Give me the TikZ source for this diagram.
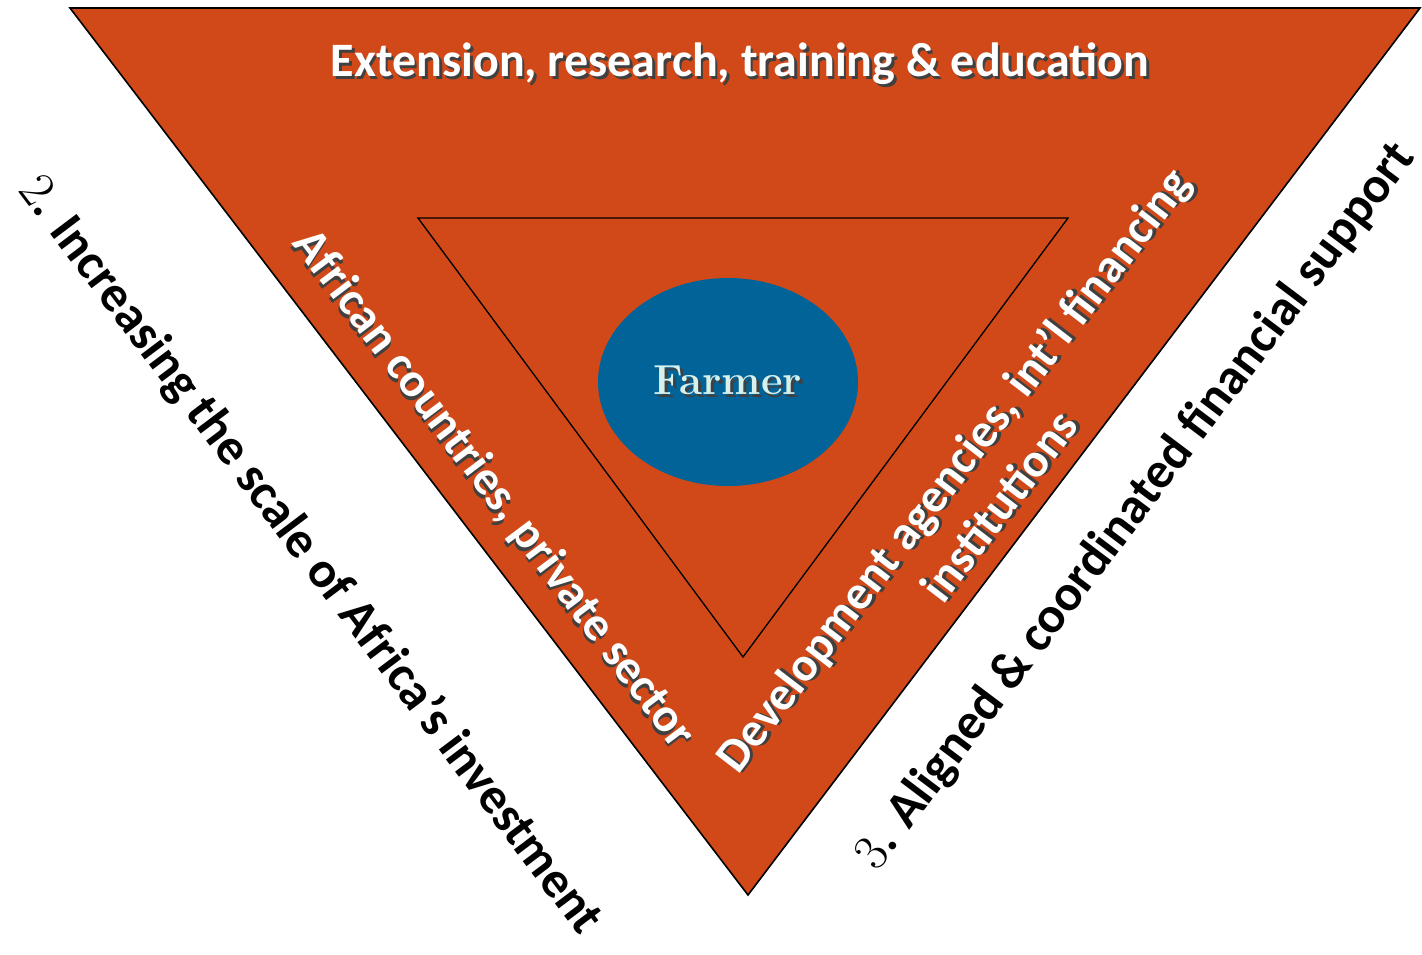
\documentclass[tikz,border=0pt]{standalone}
\usepackage{fontspec}
\setsansfont{Carlito}
\usepackage{xcolor}
\usetikzlibrary{shapes.geometric}
\definecolor{rust}{RGB}{209,73,24}
\definecolor{farmblue}{RGB}{2,99,152}
\definecolor{farmtext}{RGB}{214,240,236}
\newcommand{\shd}[1]{\makebox[0pt][l]{\raisebox{-2pt}{\hspace{2pt}\textcolor{black!75}{#1}}}#1}
\tikzset{
  wlabel/.style={text=white, font=\sffamily\bfseries\fontsize{36}{44}\selectfont, align=center},
  blabel/.style={text=black, font=\sffamily\bfseries\fontsize{38.2}{46}\selectfont}
}

\begin{document}
\begin{tikzpicture}[x=0.75pt, y=-0.75pt]
        \useasboundingbox (0,0) rectangle (1422,954);
        \coordinate (tl) at (70, 8);
        \coordinate (tr) at (1420, 8);
        \coordinate (bot) at (748, 895);
        \coordinate (itl) at (418, 218);
        \coordinate (itr) at (1068, 218);
        \coordinate (ibot) at (743, 657);
        \draw[fill=rust, line width=1.2pt] (tl) -- (tr) -- (bot) -- cycle;
        \draw[line width=1pt] (itl) -- (itr) -- (ibot) -- cycle;
        \node[ellipse, fill=farmblue, minimum width=195pt, minimum height=156pt, inner sep=0pt] (farmer) at (728, 382) {};
        \node[text=farmtext, font=\bfseries\fontsize{31.5}{36}\selectfont] at (farmer) {\shd{Farmer}};
        \node[wlabel] (ext) at (740, 65) {\shd{Extension, research, training \& education}};
        \node[wlabel, rotate=-53] (afr) at (492, 490) {\shd{African countries, private sector}};
        \node[wlabel, rotate=52.5] (dev) at (976, 488) {\shd{Development agencies, int’l financing}\\ \shd{institutions}};
        \node[blabel, rotate=-53] (scale) at (310, 555) {{\rmfamily\mdseries 2}. Increasing the scale of Africa’s investment};
        \node[blabel, rotate=53] (align) at (1136, 507) {{\rmfamily\mdseries 3}. Aligned \& coordinated financial support};
    \end{tikzpicture}
\end{document}
